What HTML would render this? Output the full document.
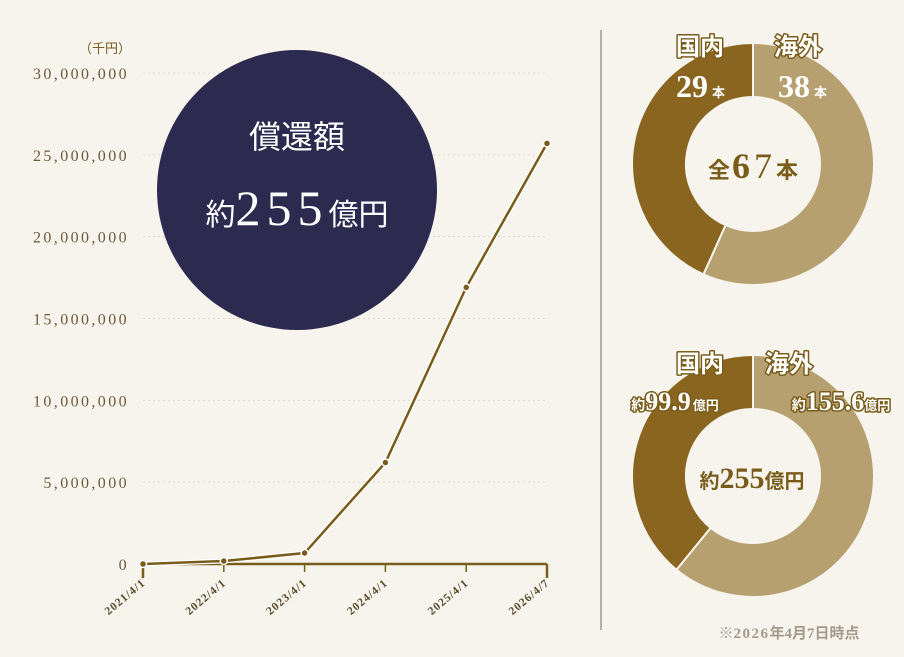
<!DOCTYPE html>
<html><head><meta charset="utf-8">
<style>
body{margin:0;background:#f7f4ee;}
svg{display:block;}
.num{font-family:"Liberation Serif","Noto Serif CJK SC",serif;}
.jp{font-family:"Liberation Sans","Noto Sans CJK JP",sans-serif;}
.ol{paint-order:stroke;stroke:#7a5c1a;stroke-width:3px;stroke-linejoin:round;}
</style></head>
<body>
<svg width="904" height="657" viewBox="0 0 904 657">
<rect width="904" height="657" fill="#f7f4ee"/>
<g id="grid"></g>
<g id="yticks"></g>
<text x="131" y="53" text-anchor="end" class="jp" font-size="13" fill="#7a5c1a">（千円）</text>
<line x1="143" y1="564" x2="547" y2="564" stroke="#7a5c1a" stroke-width="2.5"/>
<g id="xticks"></g>
<circle cx="297" cy="190" r="140" fill="#2d2a50"/>
<text x="297" y="148" text-anchor="middle" class="jp" font-size="32" fill="#fff">償還額</text>
<text x="297" y="225" text-anchor="middle" fill="#fff"><tspan class="jp" font-size="30">約</tspan><tspan class="num" font-size="50" letter-spacing="6">255</tspan><tspan class="jp" font-size="30">億円</tspan></text>
<g id="series"></g>
<line x1="601" y1="30" x2="601" y2="630" stroke="#7a6a50" stroke-width="1"/>
<g id="donut1"></g>
<g id="donut2"></g>
<text x="700" y="55" text-anchor="middle" class="jp ol" font-size="24" font-weight="bold" fill="#fff">国内</text>
<text x="676" y="97" class="num" font-size="32" font-weight="bold" fill="#fff">29<tspan class="jp" font-size="13" dx="4">本</tspan></text>
<text x="798" y="55" text-anchor="middle" class="jp ol" font-size="24" font-weight="bold" fill="#fff">海外</text>
<text x="778" y="97" class="num" font-size="32" font-weight="bold" fill="#fff">38<tspan class="jp" font-size="13" dx="4">本</tspan></text>
<text x="753" y="178" text-anchor="middle" fill="#7a5c1a" font-weight="bold"><tspan class="jp" font-size="22">全</tspan><tspan class="num" font-size="36" dx="2">6</tspan><tspan class="num" font-size="36" font-weight="normal" dx="4">7</tspan><tspan class="jp" font-size="22" dx="4">本</tspan></text>
<text x="700" y="372" text-anchor="middle" class="jp ol" font-size="24" font-weight="bold" fill="#fff">国内</text>
<text x="675" y="410" text-anchor="middle" class="ol" fill="#fff" font-weight="bold"><tspan class="jp" font-size="14">約</tspan><tspan class="num" font-size="26">99.9</tspan><tspan class="jp" font-size="13" dx="2">億円</tspan></text>
<text x="789" y="372" text-anchor="middle" class="jp ol" font-size="24" font-weight="bold" fill="#fff">海外</text>
<text x="841" y="410" text-anchor="middle" class="ol" fill="#fff" font-weight="bold"><tspan class="jp" font-size="14">約</tspan><tspan class="num" font-size="26">155.6</tspan><tspan class="jp" font-size="13">億円</tspan></text>
<text x="752" y="488" text-anchor="middle" fill="#7a5c1a" font-weight="bold"><tspan class="jp" font-size="20">約</tspan><tspan class="num" font-size="30">255</tspan><tspan class="jp" font-size="20">億円</tspan></text>
<text x="789" y="638" text-anchor="middle" font-size="15" font-weight="bold" fill="#a39a8c"><tspan class="jp">※</tspan><tspan class="num" letter-spacing="1.5">2026</tspan><tspan class="jp">年</tspan><tspan class="num">4</tspan><tspan class="jp">月</tspan><tspan class="num">7</tspan><tspan class="jp">日時点</tspan></text>
</svg>
<script>
const categories=["2021/4/1","2022/4/1","2023/4/1","2024/4/1","2025/4/1","2026/4/7"];
const values=[0,180000,670000,6200000,16900000,25700000];
const yTicks=[0,5000000,10000000,15000000,20000000,25000000,30000000];
const yTickLabels=["0","5,000,000","10,000,000","15,000,000","20,000,000","25,000,000","30,000,000"];
const countLabels=["海外","国内"];
const countValues=[38,29];
const amountLabels=["海外","国内"];
const amountValues=[155.6,99.9];
const NS="http://www.w3.org/2000/svg";
function mk(t,a,p){const e=document.createElementNS(NS,t);for(const k in a)e.setAttribute(k,a[k]);p.appendChild(e);return e;}
const x0=143,x1=547,y0=564,y1=73,ymax=30000000;
const xs=i=>x0+(x1-x0)*i/(categories.length-1);
const ys=v=>y0-(y0-y1)*v/ymax;
const grid=document.getElementById('grid'),yt=document.getElementById('yticks'),xt=document.getElementById('xticks'),se=document.getElementById('series');
yTicks.forEach((v,i)=>{
 if(v>0){const l=mk('line',{x1:143,x2:547,y1:ys(v),y2:ys(v),stroke:'#ddd6c8','stroke-dasharray':'2 3'},grid);
 
 }
 const t=mk('text',{x:129,y:ys(v)+6,'text-anchor':'end','font-size':16,fill:'#6b5a3a','class':'num','letter-spacing':'2.4'},yt);
 t.textContent=yTickLabels[i];
 
 
});
categories.forEach((c,i)=>{
 const x=xs(i);
 const l=mk('line',{x1:x,x2:x,y1:564,y2:i==0||i==5?578:572,stroke:'#7a5c1a','stroke-width':i==0||i==5?2.5:1.5},xt);
 
 
 const t=mk('text',{x:x+3,y:584,'text-anchor':'end','font-size':11.5,'font-weight':'bold','letter-spacing':'1',fill:'#5a4a2a','class':'num',transform:`rotate(-40 ${x+3} 584)`},xt);
 t.textContent=c;
 
 
});
const pts=values.map((v,i)=>xs(i)+','+ys(v)).join(' ');
const pl0=mk('polyline',{points:pts,fill:'none',stroke:'#fff','stroke-width':5},se);


const pl=mk('polyline',{points:pts,fill:'none',stroke:'#7a5c1a','stroke-width':2.5},se);


values.forEach((v,i)=>{
 const c=mk('circle',{cx:xs(i),cy:ys(v),r:3.5,fill:'#7a5c1a',stroke:'#fff','stroke-width':1.5},se);
 
 
});
function donut(g,vals,labels,cx,cy,R,r){
 const tot=vals.reduce((a,b)=>a+b,0);let a=0;
 const cols=['#b7a06f','#8a6520'];
 vals.forEach((v,i)=>{
  const a2=a+v/tot*2*Math.PI;
  const P=(rad,ang)=>[cx+rad*Math.sin(ang),cy-rad*Math.cos(ang)];
  const [ax,ay]=P(R,a),[bx,by]=P(R,a2),[cx2,cy2]=P(r,a2),[dx,dy]=P(r,a);
  const lg=(a2-a)>Math.PI?1:0;
  const p=mk('path',{d:`M${ax},${ay}A${R},${R} 0 ${lg} 1 ${bx},${by}L${cx2},${cy2}A${r},${r} 0 ${lg} 0 ${dx},${dy}Z`,fill:cols[i],stroke:'#f7f4ee','stroke-width':2},g);
  
  
  a=a2;
 });
}
donut(document.getElementById('donut1'),countValues,countLabels,753,164,121,67);
donut(document.getElementById('donut2'),amountValues,amountLabels,753,476,121,67);
</script>
</body></html>
